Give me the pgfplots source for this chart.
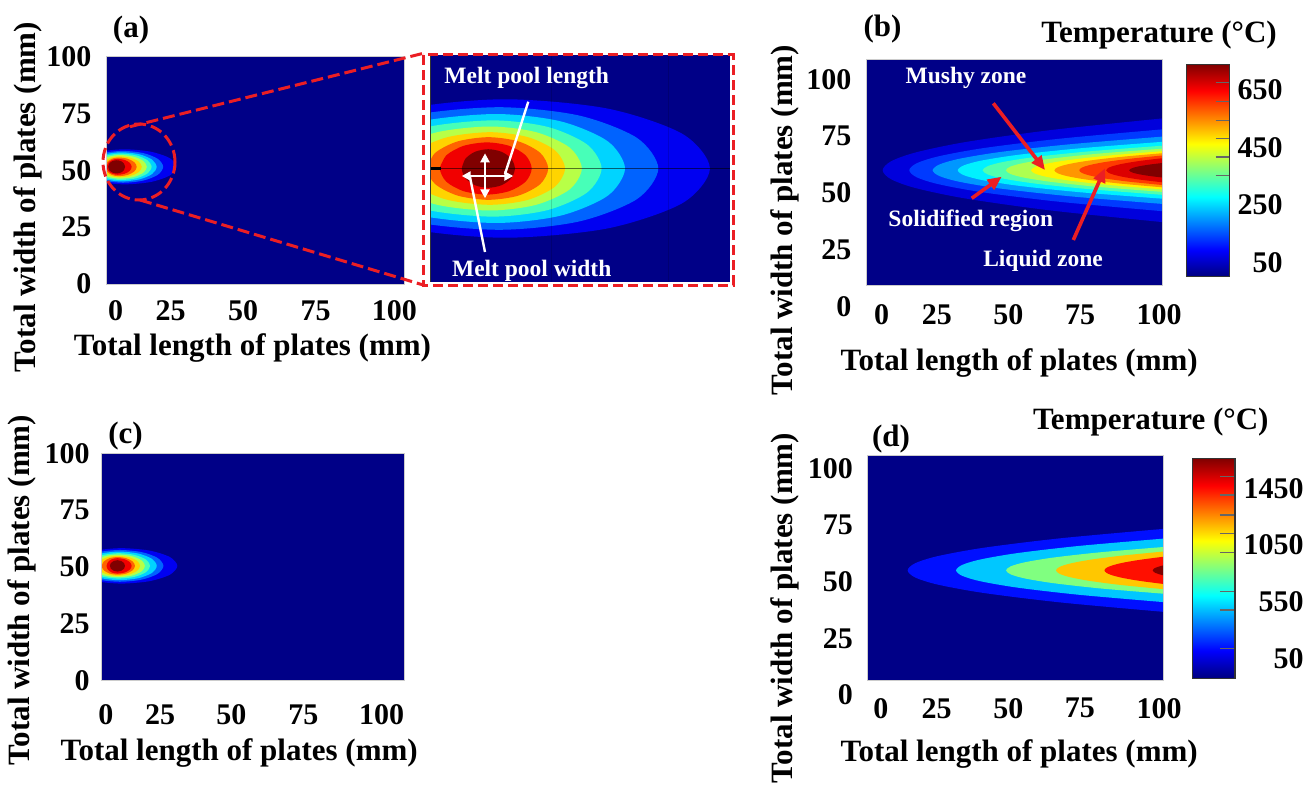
\documentclass[border=0pt]{standalone}
\usepackage{fontspec}
\setmainfont{Liberation Serif}
\usepackage{pgfplots}
\pgfplotsset{compat=1.18}
\usetikzlibrary{arrows.meta}
\definecolor{bg}{RGB}{0,0,135}
\definecolor{d1}{RGB}{0,0,241}
\definecolor{d2}{RGB}{0,99,255}
\definecolor{d3}{RGB}{0,212,255}
\definecolor{d4}{RGB}{71,255,184}
\definecolor{d5}{RGB}{184,255,71}
\definecolor{d6}{RGB}{255,212,0}
\definecolor{d7}{RGB}{255,99,0}
\definecolor{d8}{RGB}{241,0,0}
\definecolor{d9}{RGB}{128,0,0}
\definecolor{c1}{RGB}{0,0,220}
\definecolor{c2}{RGB}{0,58,255}
\definecolor{c3}{RGB}{0,151,255}
\definecolor{c4}{RGB}{0,241,255}
\definecolor{c5}{RGB}{81,255,174}
\definecolor{c6}{RGB}{174,255,81}
\definecolor{c7}{RGB}{255,243,0}
\definecolor{c8}{RGB}{255,151,0}
\definecolor{c9}{RGB}{255,58,0}
\definecolor{c10}{RGB}{220,0,0}
\definecolor{c11}{RGB}{128,0,0}
\definecolor{e1}{RGB}{0,15,255}
\definecolor{e2}{RGB}{0,199,255}
\definecolor{e3}{RGB}{128,255,128}
\definecolor{e4}{RGB}{255,199,0}
\definecolor{e5}{RGB}{255,15,0}
\definecolor{e6}{RGB}{128,0,0}
\definecolor{dred}{RGB}{235,30,36}
\pgfdeclareverticalshading{jetv}{100bp}{rgb(0bp)=(0,0,0.5); rgb(25bp)=(0,0,0.5); rgb(31.25bp)=(0,0,1); rgb(43.75bp)=(0,1,1); rgb(56.25bp)=(1,1,0); rgb(68.75bp)=(1,0,0); rgb(75bp)=(0.5,0,0); rgb(100bp)=(0.5,0,0)}
\newcommand\tck{\fontsize{15pt}{17pt}\selectfont\bfseries}
\newcommand\lab{\fontsize{15.5pt}{18pt}\selectfont\bfseries}
\newcommand\ann{\fontsize{11.75pt}{14pt}\selectfont\bfseries}
\pgfplotsset{
  heat/.style={
    scale only axis, axis on top,
    axis background/.style={fill=bg},
    major tick length=0pt,
    axis line style={draw=black!20, line width=0.5pt},
    tick label style={font=\tck, inner sep=0pt},
    xticklabel style={anchor=center},
    yticklabel style={anchor=east},
  },
  cbar/.style={
    scale only axis, axis on top, xmin=0, xmax=1, xtick=\empty,
    yticklabel pos=right, major tick length=0pt,
    tick label style={font=\tck, inner sep=0pt},
    axis line style={draw=black!80, line width=0.6pt},
  },
  band/.style={fill=#1, draw=none, smooth},
  cbt/.style={black!60, line width=0.6pt},
}
\begin{document}
\begin{tikzpicture}
\useasboundingbox (0,0) rectangle (654.5pt,-393pt);

% ---------------- (a)
\begin{axis}[heat, at={(53.35pt,-28.25pt)}, anchor=north west, width=148.65pt, height=113.75pt,
  xmin=0, xmax=100, ymin=0, ymax=100,
  xtick={3.03,21.5,45.9,70.3,96.8}, xticklabels={0,25,50,75,100},
  ytick={0,25,50,75,100}, yticklabels={0,25,50,75,100},
  xticklabel style={yshift=-13.5pt}, yticklabel style={xshift=-7.5pt}]
\addplot[band=d1] coordinates {(-7.86,55.35) (-10,51.5) (-7.86,47.65) (-2,44.83) (6,43.8) (14.75,44.83) (21.16,47.65) (23.5,51.5) (21.16,55.35) (14.75,58.17) (6,59.2) (-2,58.17) (-7.86,55.35) (-10,51.5)};
\addplot[band=d2] coordinates {(-6.19,55) (-8,51.5) (-6.19,48) (-1.25,45.44) (5.5,44.5) (12.25,45.44) (17.19,48) (19,51.5) (17.19,55) (12.25,57.56) (5.5,58.5) (-1.25,57.56) (-6.19,55) (-8,51.5)};
\addplot[band=d3] coordinates {(-4.53,54.7) (-6,51.5) (-4.53,48.3) (-0.5,45.96) (5,45.1) (10.9,45.96) (15.22,48.3) (16.8,51.5) (15.22,54.7) (10.9,57.04) (5,57.9) (-0.5,57.04) (-4.53,54.7) (-6,51.5)};
\addplot[band=d4] coordinates {(-3.25,54.4) (-4.5,51.5) (-3.25,48.6) (0.15,46.48) (4.8,45.7) (9.95,46.48) (13.72,48.6) (15.1,51.5) (13.72,54.4) (9.95,56.52) (4.8,57.3) (0.15,56.52) (-3.25,54.4) (-4.5,51.5)};
\addplot[band=d5] coordinates {(-2,54.1) (-3,51.5) (-2,48.9) (0.75,47) (4.5,46.3) (9,47) (12.29,48.9) (13.5,51.5) (12.29,54.1) (9,56) (4.5,56.7) (0.75,56) (-2,54.1) (-3,51.5)};
\addplot[band=d6] coordinates {(-0.74,53.8) (-1.5,51.5) (-0.74,49.2) (1.35,47.52) (4.2,46.9) (8,47.52) (10.78,49.2) (11.8,51.5) (10.78,53.8) (8,55.48) (4.2,56.1) (1.35,55.48) (-0.74,53.8) (-1.5,51.5)};
\addplot[band=d7] coordinates {(0.1,53.55) (-0.5,51.5) (0.1,49.45) (1.75,47.95) (4,47.4) (7.05,47.95) (9.28,49.45) (10.1,51.5) (9.28,53.55) (7.05,55.05) (4,55.6) (1.75,55.05) (0.1,53.55) (-0.5,51.5)};
\addplot[band=d8] coordinates {(0.5,53.25) (0,51.5) (0.5,49.75) (1.85,48.47) (3.7,48) (6.05,48.47) (7.77,49.75) (8.4,51.5) (7.77,53.25) (6.05,54.53) (3.7,55) (1.85,54.53) (0.5,53.25) (0,51.5)};
\addplot[band=d9] coordinates {(0.88,52.95) (0.5,51.5) (0.88,50.05) (1.92,48.99) (3.35,48.6) (4.78,48.99) (5.82,50.05) (6.2,51.5) (5.82,52.95) (4.78,54.01) (3.35,54.4) (1.92,54.01) (0.88,52.95) (0.5,51.5)};
\end{axis}

% ---------------- inset
\begin{axis}[scale only axis, at={(215pt,-27.5pt)}, anchor=north west, width=150pt, height=113.5pt,
  xmin=0, xmax=100, ymin=0, ymax=100, xtick=\empty, ytick=\empty,
  axis background/.style={fill=bg}, axis line style={draw=none}]
\addplot[band=d1] coordinates {(-31.29,65.25) (-40,50) (-31.29,34.75) (-7.5,23.59) (25,19.5) (59.15,23.59) (84.15,34.75) (93.3,50) (84.15,65.25) (59.15,76.41) (25,80.5) (-7.5,76.41) (-31.29,65.25) (-40,50)};
\addplot[band=d2] coordinates {(-27.23,63.5) (-35,50) (-27.23,36.5) (-6,26.62) (23,23) (49.55,26.62) (68.98,36.5) (76.1,50) (68.98,63.5) (49.55,73.38) (23,77) (-6,73.38) (-27.23,63.5) (-35,50)};
\addplot[band=d3] coordinates {(-21.3,62) (-28,50) (-21.3,38) (-3,29.22) (22,26) (43.5,29.22) (59.24,38) (65,50) (59.24,62) (43.5,70.78) (22,74) (-3,70.78) (-21.3,62) (-28,50)};
\addplot[band=d4] coordinates {(-16.24,60.6) (-22,50) (-16.24,39.4) (-0.5,31.64) (21,28.8) (39.1,31.64) (52.35,39.4) (57.2,50) (52.35,60.6) (39.1,68.36) (21,71.2) (-0.5,68.36) (-16.24,60.6) (-22,50)};
\addplot[band=d5] coordinates {(-10.31,59.25) (-15,50) (-10.31,40.75) (2.5,33.98) (20,31.5) (35.3,33.98) (46.5,40.75) (50.6,50) (46.5,59.25) (35.3,66.02) (20,68.5) (2.5,66.02) (-10.31,59.25) (-15,50)};
\addplot[band=d6] coordinates {(-4.25,58) (-8,50) (-4.25,42) (6,36.14) (20,34) (32.5,36.14) (41.65,42) (45,50) (41.65,58) (32.5,63.86) (20,66) (6,63.86) (-4.25,58) (-8,50)};
\addplot[band=d7] coordinates {(1.75,56.9) (-1,50) (1.75,43.1) (9.25,38.05) (19.5,36.2) (29.45,38.05) (36.73,43.1) (39.4,50) (36.73,56.9) (29.45,61.95) (19.5,63.8) (9.25,61.95) (1.75,56.9) (-1,50)};
\addplot[band=d8] coordinates {(5.4,55.75) (3.3,50) (5.4,44.25) (11.15,40.04) (19,38.5) (26.45,40.04) (31.9,44.25) (33.9,50) (31.9,55.75) (26.45,59.96) (19,61.5) (11.15,59.96) (5.4,55.75) (3.3,50)};
\addplot[band=d9] coordinates {(11.78,54.25) (10.6,50) (11.78,45.75) (15,42.64) (19.4,41.5) (23.85,42.64) (27.11,45.75) (28.3,50) (27.11,54.25) (23.85,57.36) (19.4,58.5) (15,57.36) (11.78,54.25) (10.6,50)};
\addplot[black, opacity=0.15, line width=0.4pt] coordinates {(40.6,0) (40.6,100)};
\addplot[black, opacity=0.15, line width=0.4pt] coordinates {(79.3,0) (79.3,100)};
\addplot[black, opacity=0.55, line width=0.5pt] coordinates {(0,50) (100,50)};
\addplot[black, line width=1.2pt] coordinates {(0,50) (3.5,50)};
\addplot[black!80, line width=0.8pt] coordinates {(0,0) (0,100)};
\end{axis}

% ---------------- (b)
\begin{axis}[heat, at={(433.35pt,-30pt)}, anchor=north west, width=147.8pt, height=113pt,
  xmin=0, xmax=100, ymin=9.1, ymax=108.5,
  xtick={5.07,23.7,47.9,72.2,98.9}, xticklabels={0,25,50,75,100},
  ytick={25,50,75,100}, yticklabels={25,50,75,100},
  xticklabel style={yshift=-14.5pt}, yticklabel style={xshift=-7.5pt}]
\addplot[band=c1] coordinates {(100,82.8) (62.16,77.66) (33.78,72.49) (16.75,67.9) (8.24,63.95) (5.4,60) (8.24,56.05) (16.75,52.1) (33.78,47.51) (62.16,42.34) (100,37.2)};
\addplot[band=c2] coordinates {(100,78) (65.76,73.94) (40.08,69.86) (24.67,66.24) (16.97,63.12) (14.4,60) (16.97,56.88) (24.67,53.76) (40.08,50.14) (65.76,46.06) (100,42)};
\addplot[band=c3] coordinates {(100,74.8) (68.92,71.46) (45.61,68.11) (31.62,65.13) (24.63,62.56) (22.3,60) (24.63,57.44) (31.62,54.87) (45.61,51.89) (68.92,48.54) (100,45.2)};
\addplot[band=c4] coordinates {(100,72.5) (72.32,69.68) (51.56,66.85) (39.1,64.33) (32.88,62.17) (30.8,60) (32.88,57.83) (39.1,55.67) (51.56,53.15) (72.32,50.32) (100,47.5)};
\addplot[band=c5] coordinates {(100,70.8) (75.68,68.37) (57.44,65.92) (46.5,63.74) (41.02,61.87) (39.2,60) (41.02,58.13) (46.5,56.26) (57.44,54.08) (75.68,51.63) (100,49.2)};
\addplot[band=c6] coordinates {(100,69.5) (78.84,67.36) (62.97,65.2) (53.45,63.29) (48.69,61.65) (47.1,60) (48.69,58.35) (53.45,56.71) (62.97,54.8) (78.84,52.64) (100,50.5)};
\addplot[band=c7] coordinates {(100,68.4) (82.24,66.51) (68.92,64.6) (60.93,62.91) (56.93,61.45) (55.6,60) (56.93,58.55) (60.93,57.09) (68.92,55.4) (82.24,53.49) (100,51.6)};
\addplot[band=c8] coordinates {(100,67.5) (85.4,65.81) (74.45,64.11) (67.88,62.6) (64.6,61.3) (63.5,60) (64.6,58.7) (67.88,57.4) (74.45,55.89) (85.4,54.19) (100,52.5)};
\addplot[band=c9] coordinates {(100,66.5) (88.76,65.03) (80.33,63.56) (75.27,62.25) (72.74,61.13) (71.9,60) (72.74,58.87) (75.27,57.75) (80.33,56.44) (88.76,54.97) (100,53.5)};
\addplot[band=c10] coordinates {(100,65.3) (92.4,64.11) (86.7,62.9) (83.28,61.84) (81.57,60.92) (81,60) (81.57,59.08) (83.28,58.16) (86.7,57.1) (92.4,55.89) (100,54.7)};
\addplot[band=c11] coordinates {(100,63.2) (95.52,62.48) (92.16,61.75) (90.14,61.11) (89.14,60.55) (88.8,60) (89.14,59.45) (90.14,58.89) (92.16,58.25) (95.52,57.52) (100,56.8)};
\end{axis}

% colorbar (b)
\begin{axis}[cbar, at={(593.35pt,-32.15pt)}, anchor=north west, width=21.3pt, height=106.2pt,
  ymin=0, ymax=740, ytick={50,250,450,650}, yticklabels={50,250,450,650},
  yticklabel style={anchor=east, xshift=26.85pt}]
\addplot[draw=none, shade, shading=jetv] coordinates {(0,0) (1,0) (1,740) (0,740)};
\addplot[cbt] coordinates {(0.68,353) (1,353)};
\addplot[cbt] coordinates {(0.68,417) (1,417)};
\addplot[cbt] coordinates {(0.68,481) (1,481)};
\addplot[cbt] coordinates {(0.68,545) (1,545)};
\addplot[cbt] coordinates {(0.68,611) (1,611)};
\addplot[cbt] coordinates {(0.68,677) (1,677)};
\end{axis}

% ---------------- (c)
\begin{axis}[heat, at={(50.85pt,-226.75pt)}, anchor=north west, width=151.3pt, height=113.5pt,
  xmin=0, xmax=100, ymin=0, ymax=100,
  xtick={1.35,19.27,42.83,66.62,92.53}, xticklabels={0,25,50,75,100},
  ytick={0,25,50,75,100}, yticklabels={0,25,50,75,100},
  xticklabel style={yshift=-17.25pt}, yticklabel style={xshift=-5.85pt}]
\addplot[band=d1] coordinates {(-7.79,54.4) (-10,50.5) (-7.79,46.6) (-1.75,43.75) (6.5,42.7) (15.75,43.75) (22.52,46.6) (25,50.5) (22.52,54.4) (15.75,57.25) (6.5,58.3) (-1.75,57.25) (-7.79,54.4) (-10,50.5)};
\addplot[band=d2] coordinates {(-6.12,54) (-8,50.5) (-6.12,47) (-1,44.44) (6,43.5) (13.2,44.44) (18.47,47) (20.4,50.5) (18.47,54) (13.2,56.56) (6,57.5) (-1,56.56) (-6.12,54) (-8,50.5)};
\addplot[band=d3] coordinates {(-4.42,53.65) (-6,50.5) (-4.42,47.35) (-0.1,45.04) (5.8,44.2) (12,45.04) (16.54,47.35) (18.2,50.5) (16.54,53.65) (12,55.96) (5.8,56.8) (-0.1,55.96) (-4.42,53.65) (-6,50.5)};
\addplot[band=d4] coordinates {(-3.15,53.3) (-4.5,50.5) (-3.15,47.7) (0.55,45.65) (5.6,44.9) (10.8,45.65) (14.61,47.7) (16,50.5) (14.61,53.3) (10.8,55.35) (5.6,56.1) (0.55,55.35) (-3.15,53.3) (-4.5,50.5)};
\addplot[band=d5] coordinates {(-1.87,53) (-3,50.5) (-1.87,48) (1.2,46.17) (5.4,45.5) (9.85,46.17) (13.11,48) (14.3,50.5) (13.11,53) (9.85,54.83) (5.4,55.5) (1.2,54.83) (-1.87,53) (-3,50.5)};
\addplot[band=d6] coordinates {(-0.59,52.7) (-1.5,50.5) (-0.59,48.3) (1.9,46.69) (5.3,46.1) (9,46.69) (11.71,48.3) (12.7,50.5) (11.71,52.7) (9,54.31) (5.3,54.9) (1.9,54.31) (-0.59,52.7) (-1.5,50.5)};
\addplot[band=d7] coordinates {(0.7,52.45) (0,50.5) (0.7,48.55) (2.6,47.12) (5.2,46.6) (8.1,47.12) (10.22,48.55) (11,50.5) (10.22,52.45) (8.1,53.88) (5.2,54.4) (2.6,53.88) (0.7,52.45) (0,50.5)};
\addplot[band=d8] coordinates {(2.08,52.2) (1.6,50.5) (2.08,48.8) (3.4,47.56) (5.2,47.1) (7.55,47.56) (9.27,48.8) (9.9,50.5) (9.27,52.2) (7.55,53.44) (5.2,53.9) (3.4,53.44) (2.08,52.2) (1.6,50.5)};
\addplot[band=d9] coordinates {(3.03,51.75) (2.7,50.5) (3.03,49.25) (3.95,48.33) (5.2,48) (6.45,48.33) (7.37,49.25) (7.7,50.5) (7.37,51.75) (6.45,52.67) (5.2,53) (3.95,52.67) (3.03,51.75) (2.7,50.5)};
\end{axis}

% ---------------- (d)
\begin{axis}[heat, at={(433.85pt,-227.5pt)}, anchor=north west, width=147.8pt, height=113pt,
  xmin=0, xmax=100, ymin=6.18, ymax=105.9,
  xtick={4.43,23.3,47.6,71.8,98.6}, xticklabels={0,25,50,75,100},
  ytick={25,50,75,100}, yticklabels={25,50,75,100},
  xticklabel style={yshift=-13.65pt}, yticklabel style={xshift=-7.2pt}]
\addplot[band=e1] coordinates {(100,73.3) (65.4,69.18) (39.45,65.02) (23.88,61.34) (16.1,58.17) (13.5,55) (16.1,51.83) (23.88,48.66) (39.45,44.98) (65.4,40.82) (100,36.7)};
\addplot[band=e2] coordinates {(100,69) (71.96,65.84) (50.93,62.67) (38.31,59.85) (32.0,57.42) (29.9,55) (32.0,52.58) (38.31,50.15) (50.93,47.33) (71.96,44.16) (100,41)};
\addplot[band=e3] coordinates {(100,65.3) (78.72,62.98) (62.76,60.64) (53.18,58.57) (48.4,56.78) (46.8,55) (48.4,53.22) (53.18,51.43) (62.76,49.36) (78.72,47.02) (100,44.7)};
\addplot[band=e4] coordinates {(100,63.3) (85.48,61.43) (74.59,59.55) (68.06,57.88) (64.79,56.44) (63.7,55) (64.79,53.56) (68.06,52.12) (74.59,50.45) (85.48,48.57) (100,46.7)};
\addplot[band=e5] coordinates {(100,61) (92.04,59.65) (86.07,58.29) (82.49,57.08) (80.7,56.04) (80.1,55) (80.7,53.96) (82.49,52.92) (86.07,51.71) (92.04,50.35) (100,49)};
\addplot[band=e6] coordinates {(100,57.2) (98.56,56.7) (97.48,56.2) (96.83,55.76) (96.4,55) (96.83,54.24) (97.48,53.8) (98.56,53.3) (100,52.8)};
\end{axis}

% colorbar (d)
\begin{axis}[cbar, at={(596.35pt,-229.15pt)}, anchor=north west, width=21.15pt, height=110pt,
  ymin=-126, ymax=1814, ytick={50,550,1050,1550}, yticklabels={50,550,1050,1450},
  yticklabel style={anchor=east, xshift=34.5pt}]
\addplot[draw=none, shade, shading=jetv] coordinates {(0,-126) (1,-126) (1,1814) (0,1814)};
\addplot[cbt] coordinates {(0.64,138) (1,138)};
\addplot[cbt] coordinates {(0.64,476) (1,476)};
\addplot[cbt] coordinates {(0.64,637) (1,637)};
\addplot[cbt] coordinates {(0.64,981) (1,981)};
\addplot[cbt] coordinates {(0.64,1152) (1,1152)};
\addplot[cbt] coordinates {(0.64,1314) (1,1314)};
\addplot[cbt] coordinates {(0.64,1490) (1,1490)};
\addplot[cbt] coordinates {(0.64,1651) (1,1651)};
\end{axis}

% ---------------- annotations (pixel units)
\begin{scope}[x=0.5pt,y=-0.5pt]
\draw[dred, line width=1.5pt, dash pattern=on 6pt off 2.5pt] (139,162) ellipse [x radius=18pt, y radius=19pt];
\draw[dred, line width=1.5pt, dash pattern=on 6pt off 2.5pt] (130,126.7)--(423.3,53.3);
\draw[dred, line width=1.5pt, dash pattern=on 6pt off 2.5pt] (140,200)--(423.3,285);
\draw[dred, line width=1.5pt, dash pattern=on 5pt off 2.5pt] (423.3,55) rectangle (733.3,285);
\draw[white, line width=1.2pt, {Triangle[length=4.5pt,width=4.5pt]}-{Triangle[length=4.5pt,width=4.5pt]}] (461.7,176)--(513.3,176);
\draw[white, line width=1.2pt, {Triangle[length=4.5pt,width=4.5pt]}-{Triangle[length=4.5pt,width=4.5pt]}] (485,153.3)--(485,198.3);
\draw[white, line width=1.2pt] (528.3,101.7)--(505,174);
\draw[white, line width=1.2pt] (485,252)--(470,177);
\node[white, font=\ann] at (526.7,77.5) {Melt pool length};
\node[white, font=\ann] at (531.7,271) {Melt pool width};
\draw[dred, line width=1.8pt, -{Triangle[length=7pt,width=6pt]}] (993.3,103.3)--(1045,170);
\draw[dred, line width=1.8pt, -{Triangle[length=7pt,width=6pt]}] (971.7,198.3)--(1001.7,176.7);
\draw[dred, line width=1.8pt, -{Triangle[length=7pt,width=6pt]}] (1073.3,240)--(1105,168.3);
\node[white, font=\ann] at (966,77.5) {Mushy zone};
\node[white, font=\ann] at (970.8,221) {Solidified region};
\node[white, font=\ann] at (1043,261) {Liquid zone};
\node[font=\lab] at (131,30) {(a)};
\node[font=\lab] at (882.5,29) {(b)};
\node[font=\lab] at (125.5,436) {(c)};
\node[font=\lab] at (891,439) {(d)};
\node[font=\lab] at (1159,35.5) {Temperature (°C)};
\node[font=\lab] at (1150.8,422.5) {Temperature (°C)};
\node[font=\lab, anchor=base] at (252.5,355) {Total length of plates (mm)};
\node[font=\lab, anchor=base] at (1019.2,370) {Total length of plates (mm)};
\node[font=\lab, anchor=base] at (239.2,760) {Total length of plates (mm)};
\node[font=\lab, anchor=base] at (1019.2,761.7) {Total length of plates (mm)};
\node[font=\lab, rotate=90] at (28,197) {Total width of plates (mm)};
\node[font=\lab, rotate=90] at (785,220) {Total width of plates (mm)};
\node[font=\lab, rotate=90] at (22,590) {Total width of plates (mm)};
\node[font=\lab, rotate=90] at (785,608) {Total width of plates (mm)};
\node[font=\tck, anchor=east, inner sep=0pt] at (851.7,306.7) {0};
\node[font=\tck, anchor=east, inner sep=0pt] at (853.3,695) {0};
\end{scope}
\end{tikzpicture}
\end{document}
